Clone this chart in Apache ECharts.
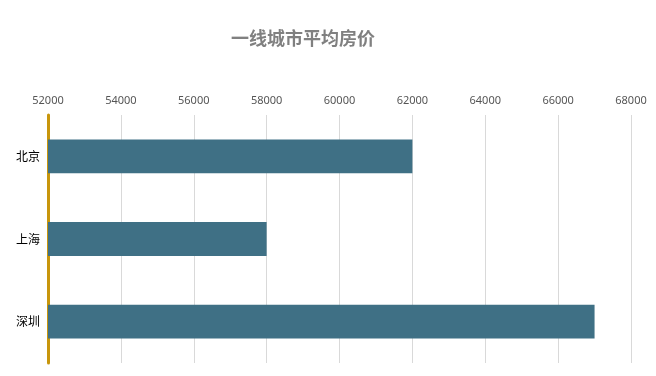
<!DOCTYPE html>
<html>
<head>
<meta charset="utf-8">
<script src="https://cdn.jsdelivr.net/npm/echarts@6/dist/echarts.min.js"></script>
<style>
  html, body { margin: 0; padding: 0; background: #fff; }
  #main { width: 656px; height: 376px; }
</style>
</head>
<body>
<div id="main"></div>
<script>
  var cities = ['北京', '上海', '深圳'];
  var prices = [62000, 58000, 67000];

  var chart = echarts.init(document.getElementById('main'));
  chart.setOption({
    animation: false,
    title: {
      text: '一线城市平均房价',
      left: 298,
      top: 24,
      textAlign: 'center',
      textStyle: {
        color: '#808080',
        fontSize: 18,
        fontWeight: 'bold',
        fontFamily: 'Noto Sans CJK SC'
      }
    },
    grid: {
      left: 48,
      right: 25,
      top: 115,
      bottom: 13,
      containLabel: false
    },
    xAxis: {
      type: 'value',
      position: 'top',
      min: 52000,
      max: 68000,
      interval: 2000,
      axisLine: { show: false },
      axisTick: { show: false },
      axisLabel: {
        color: '#555',
        fontSize: 11,
        margin: 9,
        fontFamily: 'Noto Sans',
        formatter: function (v) { return String(v); }
      },
      splitLine: { lineStyle: { color: '#d9d9d9', width: 1 } }
    },
    yAxis: {
      type: 'category',
      inverse: true,
      data: cities,
      axisLine: { lineStyle: { color: '#c8960c', width: 3 } },
      axisTick: { show: false },
      axisLabel: {
        color: '#000',
        fontSize: 12,
        margin: 8,
        fontFamily: 'Noto Sans CJK SC'
      }
    },
    series: [{
      type: 'bar',
      data: prices,
      barWidth: '41%',
      itemStyle: { color: '#3f7085' }
    }]
  });
</script>
</body>
</html>
